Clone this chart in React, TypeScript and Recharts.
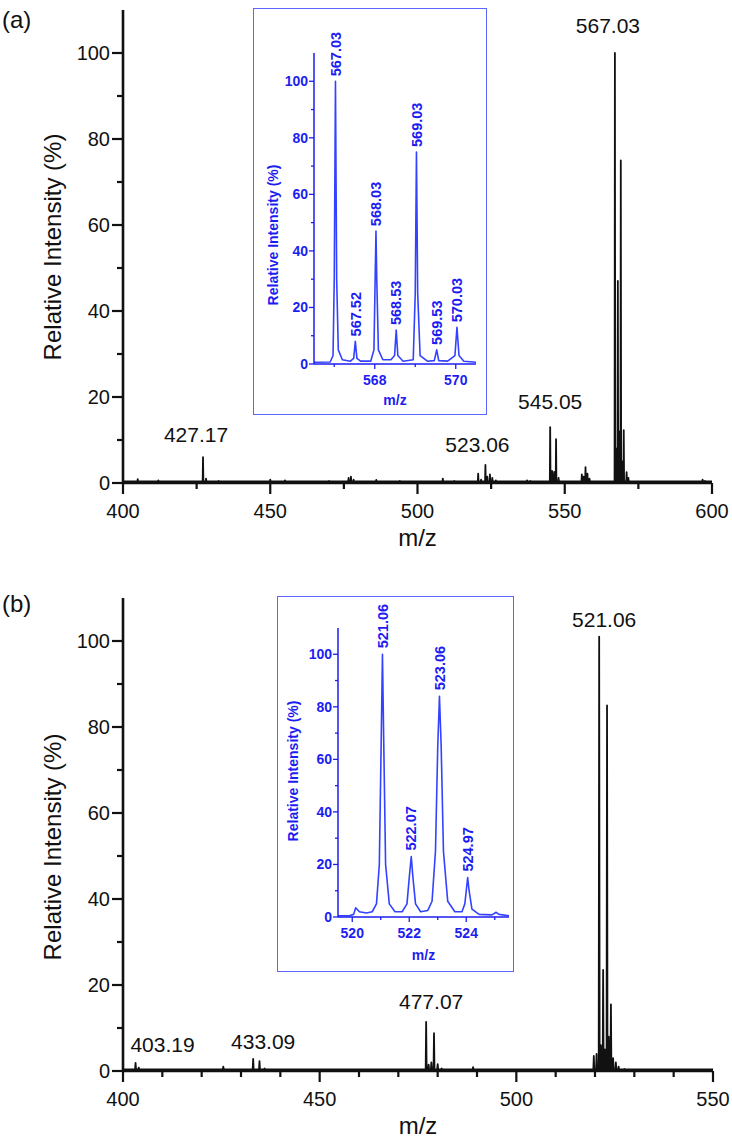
import React from 'react';
import { ComposedChart, Line, Scatter, XAxis, YAxis } from 'recharts';

// ---------- DATA ----------
// Panel (a) full spectrum: peak centres (m/z) and relative intensities (%)
const peaksA_mz = [405.0, 412.0, 418.5, 427.17, 428.2, 432.5, 450.0, 455.0, 463.0, 470.0, 476.6, 477.4, 478.3, 486.0, 494.0, 508.6, 512.5, 520.6, 521.6, 523.06, 523.7, 524.6, 525.4, 526.6, 534.0, 537.2, 538.3, 545.05, 545.7, 546.4, 547.05, 547.9, 555.8, 556.4, 557.05, 557.7, 558.4, 567.03, 567.52, 568.03, 568.53, 569.03, 569.53, 570.03, 571.0, 571.6, 596.8, 597.6];
const peaksA_int = [0.9, 0.6, 0.4, 6.0, 1.0, 0.5, 0.8, 0.6, 0.4, 0.5, 1.2, 1.5, 0.8, 0.7, 0.5, 1.0, 0.5, 2.2, 0.8, 4.2, 1.5, 2.0, 1.2, 0.6, 0.4, 0.6, 0.5, 13.0, 2.8, 2.6, 10.2, 1.2, 2.0, 1.5, 3.7, 2.2, 1.0, 100, 8.0, 47.0, 12.0, 75.0, 5.0, 12.3, 2.5, 1.2, 0.8, 0.5];
const baselineA = 0.4;

// Panel (a) annotated peaks
const labelsA_mz = [427.17, 523.06, 545.05, 567.03];
const labelsA_int = [6.0, 4.2, 13.0, 100];
const labelsA_text = ['427.17', '523.06', '545.05', '567.03'];

// Panel (a) inset (isotope pattern) profile
const insetA_mz = [566.5, 566.9, 566.97, 567.0, 567.03, 567.06, 567.1, 567.2, 567.4, 567.48, 567.52, 567.56, 567.65, 567.9, 567.98, 568.01, 568.03, 568.05, 568.09, 568.2, 568.4, 568.49, 568.53, 568.57, 568.7, 568.95, 569.0, 569.03, 569.06, 569.12, 569.3, 569.47, 569.53, 569.58, 569.8, 569.98, 570.03, 570.08, 570.2, 570.5];
const insetA_int = [0.6, 0.7, 3, 30, 100, 30, 5, 1.5, 1, 2, 8, 2, 1, 1, 5, 30, 47, 30, 5, 1.5, 1.5, 3, 12, 3, 1, 1.5, 25, 75, 25, 3, 1, 1.2, 5, 1.2, 1, 3, 13, 3, 1, 0.6];
const insetA_labels_mz = [567.03, 567.52, 568.03, 568.53, 569.03, 569.53, 570.03];
const insetA_labels_int = [100, 8, 47, 12, 75, 5, 13];
const insetA_labels_text = ['567.03', '567.52', '568.03', '568.53', '569.03', '569.53', '570.03'];

// Panel (b) full spectrum
const peaksB_mz = [403.19, 404.0, 425.5, 433.09, 434.7, 436.0, 441.0, 453.0, 462.0, 477.07, 477.7, 478.4, 479.07, 480.0, 481.0, 489.0, 519.7, 520.4, 521.06, 521.5, 522.07, 522.5, 523.06, 523.5, 524.05, 524.6, 525.3, 526.0, 527.5];
const peaksB_int = [1.9, 0.8, 1.0, 2.8, 2.3, 0.6, 0.3, 0.4, 0.3, 11.4, 1.5, 2.0, 8.8, 1.6, 0.6, 0.9, 3.5, 4.0, 101, 6.0, 23.5, 5.0, 85, 8.0, 15.5, 3.0, 2.0, 1.0, 0.5];
const baselineB = 0.4;

const labelsB_mz = [403.19, 433.09, 477.07, 521.06];
const labelsB_int = [1.9, 2.8, 11.4, 101];
const labelsB_text = ['403.19', '433.09', '477.07', '521.06'];

// Panel (b) inset profile
const insetB_mz = [519.5, 519.9, 520.05, 520.12, 520.25, 520.5, 520.7, 520.85, 520.95, 521.02, 521.06, 521.1, 521.17, 521.3, 521.5, 521.75, 521.92, 522.0, 522.07, 522.13, 522.22, 522.4, 522.65, 522.8, 522.92, 523.0, 523.06, 523.12, 523.2, 523.35, 523.6, 523.85, 523.95, 524.02, 524.05, 524.1, 524.2, 524.45, 524.9, 525.05, 525.15, 525.5];
const insetB_int = [0.5, 0.5, 1, 3.5, 2, 1.5, 2, 5, 20, 70, 100, 70, 20, 5, 2, 2, 5, 15, 23, 15, 5, 2, 2.5, 6, 25, 65, 84, 65, 25, 6, 2, 2, 5, 12, 15, 10, 3, 1, 0.8, 1.8, 1, 0.5];
const insetB_labels_mz = [521.06, 522.07, 523.06, 524.05];
const insetB_labels_int = [100, 23, 84, 15];
const insetB_labels_text = ['521.06', '522.07', '523.06', '524.97'];

// Axis ticks
const mainYTicks = [0, 10, 20, 30, 40, 50, 60, 70, 80, 90, 100];
const mainYMajor = [0, 20, 40, 60, 80, 100];
const mainAXTicks = [400, 425, 450, 475, 500, 525, 550, 575, 600];
const mainAXMajor = [400, 450, 500, 550, 600];
const mainBXTicks = [400, 410, 420, 430, 440, 450, 460, 470, 480, 490, 500, 510, 520, 530, 540, 550];
const mainBXMajor = [400, 450, 500, 550];
const insetAXTicks = [567, 568, 569, 570];
const insetAXMajor = [568, 570];
const insetBXTicks = [520, 521, 522, 523, 524, 525];
const insetBXMajor = [520, 522, 524];

// ---------- helpers ----------
const FONT = '"Liberation Sans", Arial, Helvetica, sans-serif';
const BLACK = '#111111';
const BLUE_TEXT = '#1d1df2';
const BLUE_LINE = '#3342ff';
const BLUE_BOX = '#5b68ff';

function stickSpectrum(mz: number[], inten: number[], base: number, lo: number, hi: number, hw: number) {
  const pts: { x: number; y: number }[] = [{ x: lo, y: base }];
  mz.forEach((m, i) => {
    pts.push({ x: m - hw, y: base }, { x: m, y: inten[i] }, { x: m + hw, y: base });
  });
  pts.push({ x: hi, y: base });
  return pts;
}
function profile(mz: number[], inten: number[]) {
  return mz.map((m, i) => ({ x: m, y: inten[i] }));
}
function labelRows(mz: number[], inten: number[], text: string[]) {
  return mz.map((m, i) => ({ x: m, y: inten[i], text: text[i], idx: i }));
}

type Cfg = {
  width: number; height: number;
  margin: { top: number; right: number; bottom: number; left: number };
  yAxisWidth: number; xAxisHeight: number;
  xDomain: [number, number]; xTicks: number[]; xMajor: number[];
  yTicks: number[]; yMajor: number[];
  color: string; lineWidth: number;
  axisColor: string; axisWidth: number; tickWidth: number; textColor: string;
  tickFont: number; weight: string | number;
  majorLen: number; minorLen: number;
  xTickDy: number; yTickGap: number; yTickDy: number;
  xTitleDy: number; yTitleDx: number; yTitleY: number;
  titleFont: number;
  labelFont: number; labelRotate: boolean; labelGaps: number[]; labelDx: number[];
};

function Spectrum({ cfg, data, labels }: { cfg: Cfg; data: { x: number; y: number }[]; labels: { x: number; y: number; text: string; idx: number }[] }) {
  const XTick = (p: any) => {
    const { x, y, payload } = p;
    const v = payload.value;
    const major = cfg.xMajor.includes(v);
    return (
      <g>
        <line x1={x} x2={x} y1={y} y2={y + (major ? cfg.majorLen : cfg.minorLen)} stroke={cfg.axisColor} strokeWidth={cfg.tickWidth} />
        {major && (
          <text x={x} y={y + cfg.xTickDy} textAnchor="middle" fontSize={cfg.tickFont} fontFamily={FONT} fontWeight={cfg.weight} fill={cfg.textColor}>
            {String(v)}
          </text>
        )}
      </g>
    );
  };
  const YTick = (p: any) => {
    const { x, y, payload } = p;
    const v = payload.value;
    const major = cfg.yMajor.includes(v);
    return (
      <g>
        <line x1={x} x2={x - (major ? cfg.majorLen : cfg.minorLen)} y1={y} y2={y} stroke={cfg.axisColor} strokeWidth={cfg.tickWidth} />
        {major && (
          <text x={x - cfg.yTickGap} y={y + cfg.yTickDy} textAnchor="end" fontSize={cfg.tickFont} fontFamily={FONT} fontWeight={cfg.weight} fill={cfg.textColor}>
            {String(v)}
          </text>
        )}
      </g>
    );
  };
  const xTitle = (p: any) => {
    const vb = p.viewBox || { x: 0, y: 0, width: 0 };
    return (
      <text x={vb.x + vb.width / 2} y={vb.y + cfg.xTitleDy} textAnchor="middle" fontSize={cfg.titleFont} fontFamily={FONT} fontWeight={cfg.weight} fill={cfg.textColor}>
        m/z
      </text>
    );
  };
  const yTitle = (p: any) => {
    const vb = p.viewBox || { x: 0, y: 0, width: 0 };
    const ax = vb.x + vb.width + cfg.yTitleDx;
    const ay = cfg.yTitleY;
    return (
      <text x={ax} y={ay} dy="0.35em" transform={`rotate(-90, ${ax}, ${ay})`} textAnchor="middle" fontSize={cfg.titleFont} fontFamily={FONT} fontWeight={cfg.weight} fill={cfg.textColor}>
        Relative Intensity (%)
      </text>
    );
  };
  const LabelShape = (p: any) => {
    const { cx, cy, payload } = p;
    const i = payload.idx;
    const gap = cfg.labelGaps[i] ?? cfg.labelGaps[0];
    const dx = cfg.labelDx[i] ?? 0;
    if (cfg.labelRotate) {
      const lx = cx + dx;
      const ly = cy - gap;
      return (
        <text x={lx} y={ly} dy="0.36em" transform={`rotate(-90, ${lx}, ${ly})`} textAnchor="start" fontSize={cfg.labelFont} fontFamily={FONT} fontWeight={cfg.weight} fill={cfg.textColor}>
          {payload.text}
        </text>
      );
    }
    return (
      <text x={cx + dx} y={cy - gap} textAnchor="middle" fontSize={cfg.labelFont} fontFamily={FONT} fontWeight={cfg.weight} fill={cfg.textColor}>
        {payload.text}
      </text>
    );
  };
  return (
    <ComposedChart width={cfg.width} height={cfg.height} data={data} margin={cfg.margin} style={{ overflow: 'visible' }}>
      <XAxis
        dataKey="x"
        type="number"
        domain={cfg.xDomain}
        ticks={cfg.xTicks}
        interval={0}
        tickSize={0}
        tickMargin={0}
        tick={XTick}
        tickLine={false}
        height={cfg.xAxisHeight}
        axisLine={{ stroke: cfg.axisColor, strokeWidth: cfg.axisWidth }}
        label={xTitle}
      />
      <YAxis
        dataKey="y"
        type="number"
        domain={[0, 110]}
        ticks={cfg.yTicks}
        interval={0}
        tickSize={0}
        tickMargin={0}
        tick={YTick}
        tickLine={false}
        width={cfg.yAxisWidth}
        axisLine={{ stroke: cfg.axisColor, strokeWidth: cfg.axisWidth }}
        label={yTitle}
      />
      <Line type="linear" dataKey="y" stroke={cfg.color} strokeWidth={cfg.lineWidth} dot={false} activeDot={false} isAnimationActive={false} strokeLinejoin="round" />
      <Scatter data={labels} dataKey="y" shape={LabelShape} isAnimationActive={false} />
    </ComposedChart>
  );
}

const mainBase = {
  yAxisWidth: 60, xAxisHeight: 40,
  yTicks: mainYTicks, yMajor: mainYMajor,
  color: BLACK, lineWidth: 1.8,
  axisColor: BLACK, axisWidth: 2.6, tickWidth: 2.2, textColor: BLACK,
  tickFont: 20, weight: 'normal',
  majorLen: 11, minorLen: 6,
  xTickDy: 35, yTickGap: 13, yTickDy: 7,
  xTitleDy: 63, yTitleDx: -70,
  titleFont: 24,
  labelFont: 21, labelRotate: false,
};

const cfgA: Cfg = {
  ...mainBase,
  width: 732, height: 560,
  margin: { top: 10, right: 20, bottom: 37, left: 63 },
  xDomain: [400, 600], xTicks: mainAXTicks, xMajor: mainAXMajor,
  yTitleY: 247,
  labelGaps: [15, 13, 18, 20], labelDx: [-7, -8, 0, -7],
};
const cfgB: Cfg = {
  ...mainBase,
  width: 732, height: 567,
  margin: { top: 18, right: 19, bottom: 36, left: 63 },
  xDomain: [400, 550], xTicks: mainBXTicks, xMajor: mainBXMajor,
  yTitleY: 267,
  labelGaps: [11, 10, 13, 10], labelDx: [27, 10, 5, 5],
};

const insetBase = {
  yAxisWidth: 40, xAxisHeight: 30,
  yTicks: mainYTicks, yMajor: mainYMajor,
  color: BLUE_LINE, lineWidth: 1.6,
  axisColor: BLUE_TEXT, axisWidth: 1.5, tickWidth: 1.3, textColor: BLUE_TEXT,
  tickFont: 14, weight: 'bold',
  majorLen: 5, minorLen: 3,
  xTickDy: 21, yTickGap: 6, yTickDy: 5,
  xTitleDy: 41,
  titleFont: 14,
  labelFont: 14.5, labelRotate: true,
};

const cfgIA: Cfg = {
  ...insetBase,
  width: 234, height: 407,
  margin: { top: 45, right: 11, bottom: 21, left: 21 },
  xDomain: [566.5, 570.5], xTicks: insetAXTicks, xMajor: insetAXMajor,
  yTitleDx: -41, yTitleY: 227,
  labelGaps: [5], labelDx: [],
};
const cfgIB: Cfg = {
  ...insetBase,
  width: 237, height: 376,
  margin: { top: 32, right: 5, bottom: 25, left: 21 },
  xDomain: [519.5, 525.5], xTicks: insetBXTicks, xMajor: insetBXMajor,
  yTitleDx: -45, yTitleY: 175,
  xTitleDy: 43,
  labelGaps: [6], labelDx: [],
};

export default function App() {
  const dataA = stickSpectrum(peaksA_mz, peaksA_int, baselineA, 400, 600, 0.12);
  const dataB = stickSpectrum(peaksB_mz, peaksB_int, baselineB, 400, 550, 0.12);
  const dataIA = profile(insetA_mz, insetA_int);
  const dataIB = profile(insetB_mz, insetB_int);
  const panelLetter: React.CSSProperties = {
    position: 'absolute', fontFamily: FONT, fontSize: 24, color: BLACK, lineHeight: '24px',
  };
  const box: React.CSSProperties = {
    position: 'absolute', boxSizing: 'border-box', border: `1.5px solid ${BLUE_BOX}`, background: '#ffffff',
  };
  return (
    <div style={{ position: 'absolute', left: 0, top: 0, width: 732, height: 1147, background: '#ffffff', overflow: 'hidden' }}>
      <div style={{ position: 'absolute', left: 0, top: 0 }}>
        <Spectrum cfg={cfgA} data={dataA} labels={labelRows(labelsA_mz, labelsA_int, labelsA_text)} />
      </div>
      <div style={{ position: 'absolute', left: 0, top: 580 }}>
        <Spectrum cfg={cfgB} data={dataB} labels={labelRows(labelsB_mz, labelsB_int, labelsB_text)} />
      </div>
      <div style={{ ...box, left: 253, top: 8, width: 234, height: 407 }} />
      <div style={{ position: 'absolute', left: 253, top: 8 }}>
        <Spectrum cfg={cfgIA} data={dataIA} labels={labelRows(insetA_labels_mz, insetA_labels_int, insetA_labels_text)} />
      </div>
      <div style={{ ...box, left: 277, top: 596, width: 237, height: 376 }} />
      <div style={{ position: 'absolute', left: 277, top: 596 }}>
        <Spectrum cfg={cfgIB} data={dataIB} labels={labelRows(insetB_labels_mz, insetB_labels_int, insetB_labels_text)} />
      </div>
      <div style={{ ...panelLetter, left: 2, top: 8 }}>(a)</div>
      <div style={{ ...panelLetter, left: 2, top: 592 }}>(b)</div>
    </div>
  );
}
